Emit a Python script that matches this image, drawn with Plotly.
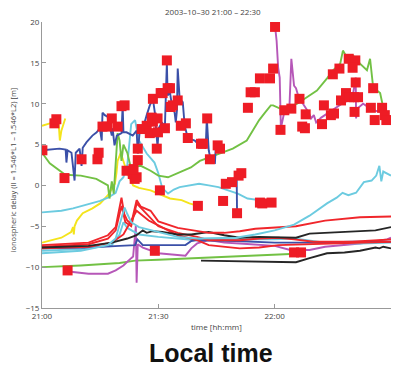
import plotly.graph_objects as go

# time in minutes after 21:00, values in metres
tick_vals = [0, 30, 60, 90]
tick_text = ["21:00", "21:30", "22:00", "22:30"]
y_ticks = [-15, -10, -5, 0, 5, 10, 15, 20]

blue_t = [0.1, 4.5, 6.1, 6.3, 6.6, 7.6, 8.4, 8.7, 9.7, 10.2, 10.5, 11.5, 13.0, 14.1, 14.9, 15.4, 15.6, 16.2, 16.9,
          18.0, 18.2, 18.7, 19.3, 20.5, 20.8, 21.0, 21.8, 23.4, 24.4, 24.7, 25.2, 26.2, 27.0, 27.8, 28.6, 29.1, 29.6,
          29.8, 30.1, 30.9, 31.7, 31.9, 32.2, 32.4, 33.0, 33.5, 34.2, 34.5, 34.8, 35.0, 35.5, 36.3, 36.8, 37.6, 39.4,
          40.2, 41.5, 42.2, 42.5, 43.0, 43.5, 44.6, 44.8, 45.9]
blue_v = [4.3, 4.5, 4.4, 2.8, 4.3, 4.0, 0.6, 4.0, 4.5, 2.4, 4.6, 5.3, 6.1, 6.5, 7.0, 5.5, 8.9, 8.6, 8.4,
          6.1, 7.0, 4.9, 6.1, 6.4, 9.8, 6.5, 6.5, 6.1, 6.7, 3.9, 6.7, 7.3, 8.6, 9.8, 10.6, 8.9, 5.8,
          4.7, 7.0, 7.7, 7.3, 10.2, 15.0, 11.0, 11.4, 9.8, 8.9, 7.7, 9.2, 14.3, 10.6, 10.2, 7.3, 5.8, 5.5,
          5.1, 5.1, 4.5, 8.2, 4.3, 3.1, 2.8, 4.7, 4.5]
blue2_t = [50.2, 50.3]
blue2_v = [1.2, -3.4]
blue_low_t = [0, 12, 20, 24, 24.6, 26, 30, 37, 38.5, 40, 50, 60, 70, 80, 90]
blue_low_v = [-7.7, -7.6, -7.4, -7.3, -6.6, -7.3, -7.3, -7.3, -6.8, -6.7, -6.8, -7.0, -7.0, -6.9, -6.9]

green_t = [0, 2, 6, 10, 14, 15.6, 17.0, 17.4, 18.0, 18.5, 19.0, 19.5, 20.0, 20.5, 21.0, 22.0, 22.9, 25.5, 28.0,
           30.0, 32.5, 35.0, 38.4, 40.7, 45.9, 49.2, 52.8, 56.0, 57.5, 59.0, 59.6, 61.4, 63.2, 65.8, 68.3, 70.9,
           73.5, 75.1, 76.9, 77.6, 78.6, 80.2, 82.0, 83.8, 84.6, 85.4, 87.2, 88.0, 89.3, 89.8]
green_v = [4.0, 2.7, 1.3, 1.2, 0.8, 0.4, 0.0, -1.6, 0.5, -1.0, 3.0, 6.4, 5.5, 3.0, 5.0, 4.0, 2.2, 2.4, 1.8,
           1.2, 1.0, 1.5, 2.2, 3.0, 3.9, 4.5, 5.5, 8.0, 8.9, 9.8, 9.8, 9.4, 9.5, 10.0, 10.8, 11.6,
           13.1, 14.1, 14.9, 16.5, 15.7, 15.9, 14.9, 14.1, 15.5, 12.0, 11.3, 9.5, 8.3, 7.7]
green_low_t = [0, 10, 20, 24, 30, 40, 50, 60, 64]
green_low_v = [-10.0, -9.8, -9.5, -9.2, -9.1, -8.9, -8.7, -8.5, -8.4]

yellow1_t = [0, 2, 3.5, 4.3, 4.6, 5.0, 5.5, 6.0]
yellow1_v = [7.3, 7.6, 7.8, 7.6, 5.5, 6.7, 7.5, 8.2]
yellow2_t = [0, 5, 7.5, 8.0, 8.2, 8.4, 9.0, 10.5, 13.0, 15.0, 17.0, 18.0, 18.8, 19.2, 19.5, 20.3, 21.5, 22.0,
             23.5, 25.0, 28.0, 30.0, 33.0, 36.0, 38.0, 40.2]
yellow2_v = [-7.0, -6.4, -5.7, -5.1, -6.0, -5.0, -4.3, -3.4, -2.8, -2.2, -1.2, -0.4, 0.2, 1.5, 3.0, 4.0, 2.0, 1.5,
             0.0, -0.3, -0.6, -1.0, -1.6, -1.8, -2.2, -2.5]

cyanA_t = [0, 5, 8, 12, 15, 17, 19, 20, 21, 22, 23, 24, 25, 27, 29, 30, 31, 32.5, 34, 35.5, 38, 40.5, 43,
           45.5, 48, 50.5, 53, 56, 57.5, 60]
cyanA_v = [-3.3, -3.1, -2.8, -2.3, -1.9, -1.5, -0.9, 0.5, 1.0, 2.5, 7.5, 8.0, 5.5, 3.9, 2.8, 1.5, -0.3, -1.0, -0.5,
           -0.2, 0.0, 0.2, 0.0, -0.2, -0.6, -1.0, -1.6, -1.8, -2.1, -2.1]
cyanC_t = [0, 10, 17, 19, 20.5, 21.3, 22, 23, 25, 30, 35, 40, 50, 55, 60, 65, 69, 73.5, 76, 77.5, 79, 81, 83,
           85, 86.2, 87.0, 87.5, 88, 90]
cyanC_v = [-8.3, -8.0, -7.3, -6.5, -4.0, -2.7, -3.5, -4.5, -5.1, -5.7, -6.3, -6.5, -6.4, -6.0, -5.5, -4.8, -3.7,
           -2.2, -1.5, -0.9, -1.2, -0.9, 0.4, 0.6, 1.2, 2.4, 0.5, 1.7, 1.2]
cyanE_t = [0, 10, 18, 20, 21, 22, 25, 30, 40, 50, 60, 65, 73, 82, 90]
cyanE_v = [-8.0, -7.8, -7.3, -6.0, -4.5, -5.2, -6.0, -6.3, -6.7, -6.6, -6.6, -6.5, -7.0, -7.1, -7.0]

red1_t = [0, 12, 17, 19, 20.5, 21.2, 22, 23, 24.4, 25.5, 28, 30, 35, 40, 43, 47, 51, 55, 61, 65.5, 73, 82, 90]
red1_v = [-7.3, -7.0, -6.1, -5.1, -1.5, -3.5, -4.3, -4.7, -1.8, -2.6, -3.1, -4.4, -5.2, -5.6, -5.8, -5.8, -5.6,
          -5.3, -5.1, -5.0, -4.3, -3.9, -3.8]
red2_t = [0, 12, 17, 19, 20.5, 21.5, 23, 24.4, 26, 30, 35, 40, 43, 51, 56, 61, 65, 70, 80, 90]
red2_v = [-7.5, -7.2, -6.5, -5.5, -2.5, -4.5, -5.0, -2.2, -3.0, -5.0, -5.8, -6.3, -6.7, -6.7, -6.5, -6.4, -6.6,
          -6.9, -6.9, -6.6]
red3_t = [0, 12, 18, 21, 24.4, 27.5, 30, 35, 40, 43, 51, 56, 61, 70, 80, 90]
red3_v = [-7.7, -7.5, -7.0, -6.0, -3.1, -4.3, -4.9, -6.1, -6.7, -7.3, -7.7, -7.6, -7.3, -7.2, -7.1, -6.9]

black1_t = [0, 12, 18, 22, 24.4, 26, 27, 28.5, 31, 35, 38.5, 43, 47, 51, 56, 61, 65.5, 69, 78, 86, 90]
black1_v = [-7.6, -7.4, -7.0, -6.5, -6.1, -5.5, -5.8, -5.6, -5.7, -6.0, -6.0, -5.7, -6.1, -6.4, -6.3, -6.4, -6.4,
            -5.9, -5.7, -5.5, -5.1]
black2_t = [41, 50, 61, 65.5, 69, 73.5, 78, 82, 86, 87, 88, 90]
black2_v = [-9.2, -9.3, -9.4, -9.4, -8.9, -8.3, -8.2, -8.0, -7.6, -7.7, -7.5, -7.7]

purple_low_t = [6.6, 8, 12, 17, 19, 21, 23, 23.5, 24.2, 24.4, 24.7, 26, 30, 37, 38.5, 40, 43, 47, 51, 56, 60,
                64, 69, 73, 82, 89, 90]
purple_low_v = [-10.4, -10.6, -10.8, -10.8, -10.4, -9.8, -8.9, -8.7, -4.9, -11.9, -7.2, -7.6, -8.3, -8.6, -7.7,
                -7.1, -6.7, -7.0, -7.1, -7.3, -7.4, -7.9, -7.9, -7.5, -7.1, -6.6, -6.4]
purple_up_t = [60.1, 60.5, 60.9, 61.3, 61.6, 62.5, 63.8, 64.3, 65.0, 65.5, 66.3, 67.3, 68.8, 69.4, 70.1, 70.7,
               72.0, 75.0, 78.0, 80.0, 80.9, 81.0, 81.3, 82.8, 85.4, 88.0, 89.5]
purple_up_v = [19.5, 17.7, 14.4, 13.2, 7.0, 9.0, 9.5, 15.5, 12.2, 11.9, 10.6, 10.0, 8.9, 8.2, 8.6, 7.7,
               8.3, 9.3, 10.2, 10.6, 13.2, 8.2, 9.4, 10.0, 9.2, 8.9, 8.2]

sq_t = [0.1, 3.2, 3.7, 5.8, 6.6, 10.2, 14.3, 14.6, 15.6, 16.9, 18.0, 19.5, 20.5, 21.3, 21.8, 23.4, 23.9, 24.4,
        23.6, 24.7, 24.7, 25.7, 27.0, 27.8, 28.6, 28.3, 28.6, 29.1, 29.6, 29.9, 29.8, 30.4, 30.6, 31.1, 31.7,
        32.2, 32.4, 33.0, 33.7, 33.2, 35.0, 35.8, 37.1, 37.6, 40.2, 41.0, 41.5, 42.6, 43.3, 45.3, 45.9, 46.7,
        47.4, 49.0, 50.7, 51.4, 50.3, 53.1, 53.8, 54.9, 56.2, 56.2, 56.8, 59.2, 58.8, 59.6, 60.1, 61.5, 62.5,
        64.3, 65.0, 66.8, 66.4, 67.1, 67.8, 68.0, 72.2, 72.7, 74.5, 75.3, 75.0, 76.7, 77.1, 78.4, 79.1, 80.8,
        80.1, 80.9, 79.2, 80.5, 81.5, 80.6, 85.4, 84.8, 87.7, 85.8, 88.4, 88.8]
sq_v = [4.3, 7.6, 8.1, 0.9, -10.4, 3.2, 3.2, 4.0, 7.2, 7.2, 8.2, 7.2, 9.7, 9.8, 1.8, 1.4, 0.8, 1.0,
        2.0, 4.5, 3.1, 6.9, 7.3, 6.4, 7.8, 8.3, 10.6, -8.0, 4.5, 6.5, 8.2, -0.6, 11.3, 11.3, 7.0,
        15.3, 11.9, 11.9, 9.8, 9.6, 10.4, 7.3, 7.6, 5.8, -2.5, 5.1, 5.1, 8.2, 3.2, 4.9, 4.5, -1.9,
        0.2, 0.4, 1.2, 1.5, -3.4, 9.5, 11.4, 11.4, 13.1, -2.1, -2.2, -2.1, 13.1, 14.3, 19.4, 6.8, 9.2,
        9.4, -8.2, -8.2, 10.6, 7.2, 7.0, 8.7, 7.5, 9.8, 8.6, 8.8, 13.6, 14.3, 10.4, 11.3, 15.5, 15.3,
        14.4, 12.6, 10.8, 10.8, 10.8, 9.0, 11.9, 9.5, 9.5, 8.0, 8.6, 8.0]

BLUE = "#3b50a8"
GREEN = "#72c144"
YELLOW = "#f4e41c"
CYAN = "#6ccbe0"
RED = "#f0262b"
BLACK = "#262626"
PURPLE = "#b657b8"
SQ = "#ee1c25"

fig = go.Figure()


def add(t, v, color, w=1.9):
    fig.add_trace(go.Scatter(x=t, y=v, mode="lines", line=dict(color=color, width=w),
                             showlegend=False, hoverinfo="skip"))


add(green_low_t, green_low_v, GREEN)
add(black2_t, black2_v, BLACK)
add(purple_low_t, purple_low_v, PURPLE)
add(cyanE_t, cyanE_v, CYAN)
add(blue_low_t, blue_low_v, BLUE)
add(red3_t, red3_v, RED)
add(red2_t, red2_v, RED)
add(black1_t, black1_v, BLACK)
add(red1_t, red1_v, RED)
add(cyanC_t, cyanC_v, CYAN)
add(yellow2_t, yellow2_v, YELLOW)
add(yellow1_t, yellow1_v, YELLOW)
add(cyanA_t, cyanA_v, CYAN)
add(green_t, green_v, GREEN)
add(purple_up_t, purple_up_v, PURPLE)
add(blue_t, blue_v, BLUE)
add(blue2_t, blue2_v, BLUE)

fig.add_trace(go.Scatter(x=sq_t, y=sq_v, mode="markers",
                         marker=dict(symbol="square", size=10, color=SQ, line=dict(width=0)),
                         showlegend=False, hoverinfo="skip"))

axis_font = dict(family="Open Sans, Liberation Sans, sans-serif", size=8, color="#444")
small = dict(family="Open Sans, sans-serif", size=8, color="#444")
fig.update_layout(
    width=399, height=370,
    margin=dict(l=42, r=8, t=22, b=62),
    paper_bgcolor="white", plot_bgcolor="white",
    xaxis=dict(range=[0, 90], tickvals=tick_vals, ticktext=tick_text, showgrid=False, zeroline=False,
               showline=True, linecolor="#999", linewidth=1, ticks="inside", ticklen=4, tickcolor="#999",
               tickfont=axis_font),
    yaxis=dict(range=[-15, 20], tickvals=y_ticks, showgrid=False, zeroline=False,
               showline=True, linecolor="#999", linewidth=1, ticks="inside", ticklen=4, tickcolor="#999",
               tickfont=axis_font),
    annotations=[
        dict(text="2003\u201310\u201330 21:00 \u2013 22:30", xref="paper", yref="paper", x=0.49, y=1.035,
             xanchor="center", yanchor="middle", showarrow=False, font=small),
        dict(text="time [hh:mm]", xref="paper", yref="paper", x=0.5, y=-0.066,
             xanchor="center", yanchor="middle", showarrow=False, font=small),
        dict(text="ionospheric delay (II = 1.546*L1 \u2013 1.546*L2) [m]", xref="paper", yref="paper",
             x=-0.082, y=0.4825, textangle=-90, xanchor="center", yanchor="middle", showarrow=False,
             font=dict(family="Open Sans, sans-serif", size=7.5, color="#444")),
        dict(text="<b>Local time</b>", xref="paper", yref="paper", x=0.484, y=-0.157,
             xanchor="center", yanchor="middle", showarrow=False,
             font=dict(family="Liberation Sans, Arial, sans-serif", size=25, color="#111")),
    ],
)

fig.write_html("out.html")
